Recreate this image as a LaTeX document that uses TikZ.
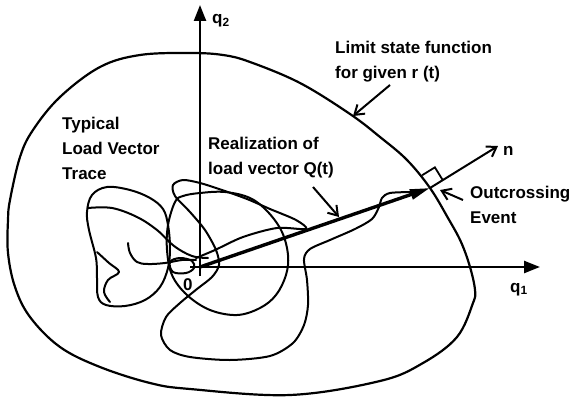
\documentclass[tikz,border=0pt]{standalone}
\usepackage{fontspec}
\setmainfont{Liberation Sans}
\usetikzlibrary{arrows.meta,positioning,calc}
\tikzset{
  axis/.style={-{Triangle[length=16pt,width=12pt]},line width=2.4pt},
  vec/.style={-{Triangle[length=20pt,width=10pt]},line width=3.4pt},
  arr/.style={-{Straight Barb[length=9pt,width=12pt]},line width=2pt},
  limcurve/.style={line width=2.2pt},
  trace/.style={line width=2pt,line join=round,line cap=round},
  lbl/.style={font=\fontsize{17}{25}\selectfont\bfseries,align=left,inner sep=0pt}
}

\begin{document}
\begin{tikzpicture}[x=1pt,y=-1pt]
  \useasboundingbox (0,0) rectangle (572,401);

  \coordinate (O) at (200,267);
  \coordinate (q1end) at (540,267);
  \coordinate (q1start) at (190,267);
  \coordinate (q2end) at (200,5);
  \coordinate (q2start) at (200,276);
  \coordinate (X) at (430,188);
  \coordinate (nend) at (498,146);

  % limit state function
  \draw[limcurve] plot[smooth cycle,tension=0.6] coordinates {
    (190,53) (223,55) (250,62) (300,83) (350,114) (380,137) (407,160) (430,188)
    (448,218) (461,242) (470,267) (475,290) (473,303) (457,337) (423,363)
    (380,381) (290,395) (190,389) (150,383) (100,367) (60,347) (30,317)
    (15,287) (8,253) (8,220) (10,200) (20,157) (33,130) (60,97) (100,67) (140,55)};

  % load vector trace
  \draw[trace] plot[smooth cycle,tension=0.6] coordinates {
    (92,195) (107,187) (130,190) (150,198) (163,209) (168,225) (170,248) (168,268)
    (160,287) (145,300) (125,306) (106,305) (98,297) (97,278) (96,258) (89,230) (87,212)};
  \draw[trace] plot[smooth,tension=0.6] coordinates {
    (97,252) (109,263) (119,272) (108,280) (104,292) (110,302)};
  \draw[trace] plot[smooth,tension=0.6] coordinates {
    (88,208) (112,208) (137,217) (157,230) (174,246) (192,256) (208,258)};
  \draw[trace] plot[smooth,tension=0.6] coordinates {
    (128,243) (130,253) (137,262) (148,264) (165,263) (182,260) (196,260)};
  \draw[trace] plot[smooth cycle,tension=0.6] coordinates {
    (170,262) (180,258) (192,261) (194,268) (186,273) (173,272)};
  \draw[trace] plot[smooth cycle,tension=0.6] coordinates {
    (175,202) (168,225) (167,250) (172,275) (187,295) (210,310) (237,315) (260,308)
    (276,295) (286,275) (288,255) (282,232) (268,212) (250,198) (225,192) (200,193) (183,196)};
  \draw[trace] plot[smooth,tension=0.5] coordinates {
    (196,258) (215,250) (243,237) (277,228) (306,229) (296,220) (270,209) (247,199)
    (222,190) (200,183) (183,180) (173,185) (175,196) (190,212) (205,230) (216,250)
    (219,265) (212,277) (197,289) (180,303) (166,317) (161,335) (170,350) (190,357)
    (230,360) (270,356) (293,343) (304,325) (308,305) (307,280) (304,259) (310,249)
    (330,240) (355,229) (372,219) (379,207) (382,198) (390,193) (412,192)};

  % axes and vectors
  \draw[axis] (q1start) -- (q1end);
  \draw[axis] (q2start) -- (q2end);
  \draw[vec] (O) -- (X);
  \draw[arr] (X) -- (nend);
  \coordinate (sqa) at ($(X)!15pt!(nend)$);
  \coordinate (sqb) at ($(X)!15pt!90:(nend)$);
  \draw[line width=1.8pt] (sqa) -- ($(sqa)+(sqb)-(X)$) -- (sqb);

  \node[lbl,anchor=base west] (q2lbl) at (212,24) {q\textsubscript{2}};
  \node[lbl,anchor=base west] (q1lbl) at (510,292) {q\textsubscript{1}};
  \node[lbl,anchor=base west] (nlbl) at (503,155) {n};
  \node[lbl,anchor=base west] (olbl) at (183,290) {0};

  \node[lbl,anchor=north west] (lsf) at (335,41) {Limit state function\\for given r (t)};
  \node[lbl,anchor=north west] (typ) at (62,117) {Typical\\Load Vector\\Trace};
  \node[lbl,anchor=north west] (real) at (208,137) {Realization of\\load vector Q(t)};
  \node[lbl,anchor=north west] (outc) at (470,186) {Outcrossing\\Event};

  \coordinate (lsftail) at (390,85);
  \coordinate (lsftip) at (353,116);
  \coordinate (realtail) at (313,187);
  \coordinate (realtip) at (339,217);
  \coordinate (outctail) at (463,200);
  \coordinate (outctip) at (440,190);
  \draw[arr] (lsftail) -- (lsftip);
  \draw[arr] (realtail) -- (realtip);
  \draw[arr] (outctail) -- (outctip);
\end{tikzpicture}
\end{document}
